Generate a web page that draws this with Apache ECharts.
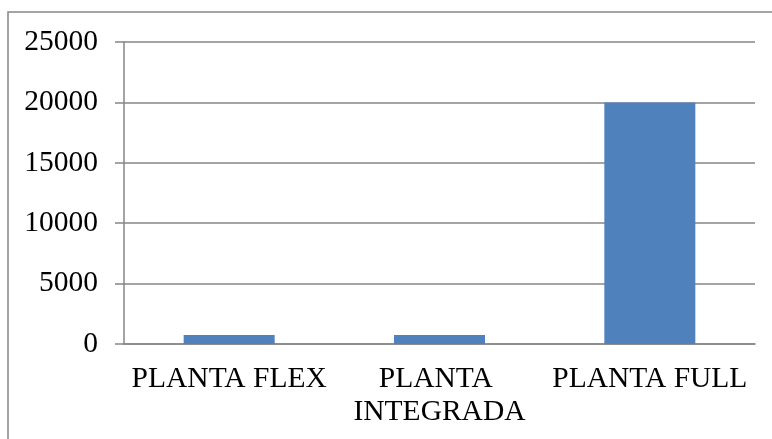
<!DOCTYPE html>
<html>
<head>
<meta charset="utf-8">
<script src="https://cdn.jsdelivr.net/npm/echarts@6/dist/echarts.min.js"></script>
<style>html,body{margin:0;padding:0;background:#fff;}#c{width:772px;height:439px;}</style>
</head>
<body>
<div id="c"></div>
<script>
const categories = ['PLANTA FLEX', 'PLANTA INTEGRADA', 'PLANTA FULL'];
const values = [750, 750, 20000];
const chart = echarts.init(document.getElementById('c'));
const font = '"Liberation Serif", "Times New Roman", serif';
chart.setOption({
  animation: false,
  graphic: [{
    type: 'rect',
    shape: { x: 8, y: 12, width: 780, height: 450 },
    style: { fill: 'none', stroke: '#868686', lineWidth: 1.5 },
    silent: true
  }],
  grid: { left: 124, right: 17, top: 42, bottom: 95 },
  xAxis: {
    type: 'category',
    data: categories,
    axisLine: { lineStyle: { color: '#868686', width: 1.5 } },
    axisTick: { length: 9, lineStyle: { color: '#868686', width: 1.5 } },
    axisLabel: {
      color: '#000', fontFamily: font, fontSize: 29.5, lineHeight: 33,
      margin: 19, width: 208, overflow: 'break', interval: 0
    }
  },
  yAxis: {
    type: 'value', min: 0, max: 25000, interval: 5000,
    axisLine: { show: true, lineStyle: { color: '#868686', width: 1.5 } },
    axisTick: { show: true, length: 9, lineStyle: { color: '#868686', width: 1.5 } },
    splitLine: { lineStyle: { color: '#868686', width: 1.5 } },
    axisLabel: { color: '#000', fontFamily: font, fontSize: 29.5, margin: 26,
      formatter: function (v) { return String(v); } }
  },
  series: [{
    type: 'bar', data: values, barWidth: 91,
    itemStyle: { color: '#4f81bd' }
  }]
});
</script>
</body>
</html>
